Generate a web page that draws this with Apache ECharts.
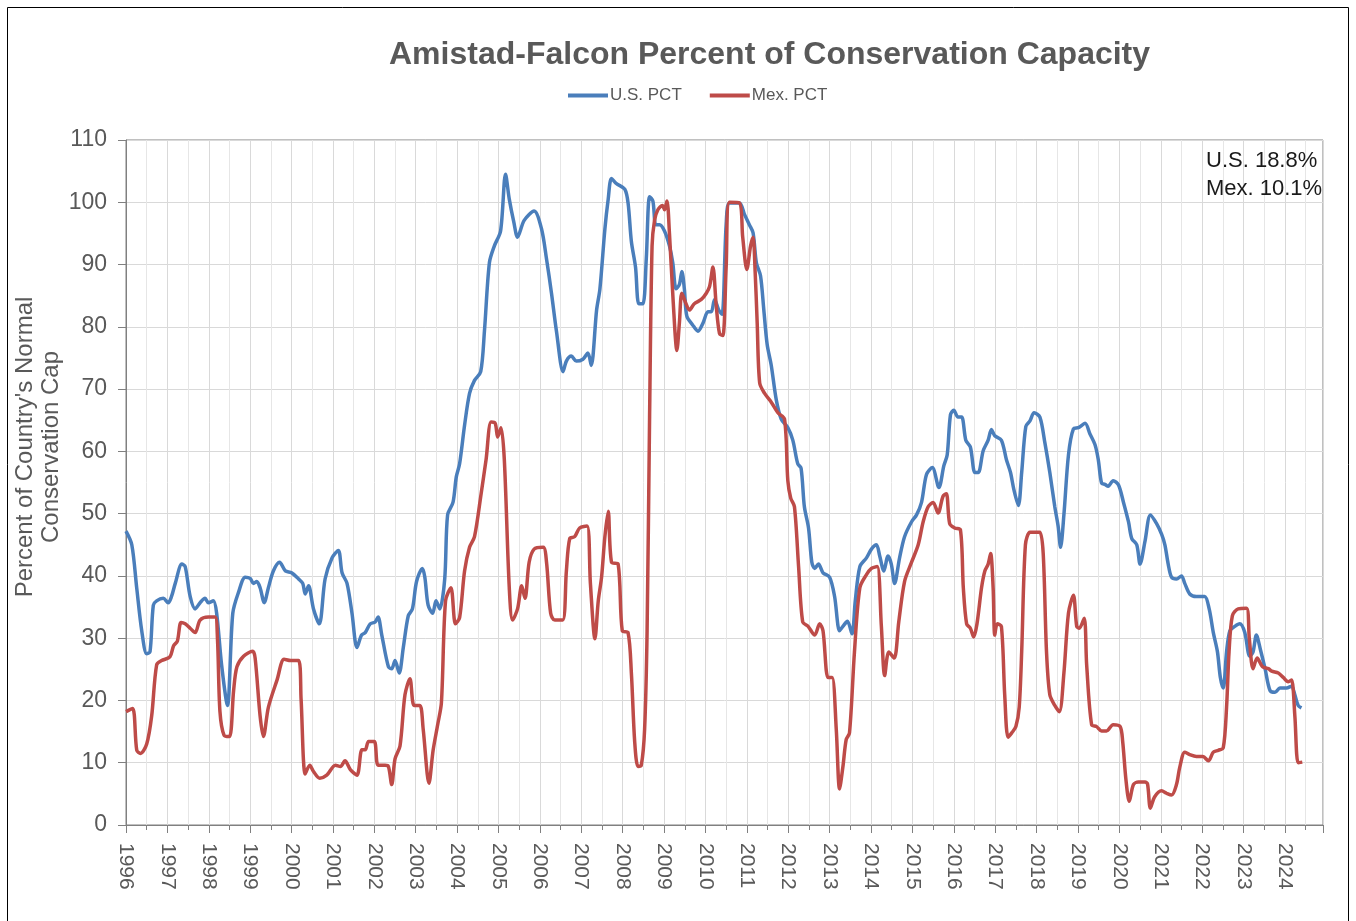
<!DOCTYPE html>
<html>
<head>
<meta charset="utf-8">
<title>Amistad-Falcon Percent of Conservation Capacity</title>
<script src="https://cdn.jsdelivr.net/npm/echarts@6/dist/echarts.min.js"></script>
<style>
    html, body { margin: 0; padding: 0; background: #fff; }
    #chart { width: 1356px; height: 921px; }
</style>
</head>
<body>
<div id="chart"></div>
<script>
// 标题与图例
const chartTitle = 'Amistad-Falcon Percent of Conservation Capacity';
const seriesNames = ['U.S. PCT', 'Mex. PCT'];
const yAxisName = "Percent of Country's Normal\nConservation Cap";

// 美国数据：年份（小数年）与百分比
const usYears = [
    1996.0, 1996.14, 1996.26, 1996.38, 1996.5, 1996.58, 1996.66, 1996.74, 1996.9, 1997.02,
    1997.1, 1997.19, 1997.35, 1997.43, 1997.55, 1997.67, 1997.79, 1997.91, 1997.99, 1998.11,
    1998.19, 1998.31, 1998.45, 1998.58, 1998.72, 1998.88, 1999.0, 1999.08, 1999.16, 1999.24,
    1999.34, 1999.44, 1999.56, 1999.71, 1999.85, 2000.0, 2000.17, 2000.27, 2000.33, 2000.41,
    2000.53, 2000.67, 2000.81, 2000.98, 2001.13, 2001.22, 2001.34, 2001.46, 2001.58, 2001.69,
    2001.78, 2001.9, 2002.02, 2002.09, 2002.18, 2002.34, 2002.42, 2002.5, 2002.6, 2002.7,
    2002.82, 2002.92, 2003.02, 2003.16, 2003.22, 2003.3, 2003.41, 2003.49, 2003.58, 2003.7,
    2003.77, 2003.9, 2003.98, 2004.06, 2004.18, 2004.3, 2004.42, 2004.57, 2004.66, 2004.78,
    2004.9, 2005.05, 2005.17, 2005.26, 2005.37, 2005.46, 2005.62, 2005.86, 2006.04, 2006.16,
    2006.28, 2006.4, 2006.56, 2006.64, 2006.76, 2006.88, 2007.04, 2007.16, 2007.24, 2007.37,
    2007.45, 2007.57, 2007.65, 2007.73, 2007.85, 2008.05, 2008.13, 2008.21, 2008.31, 2008.39,
    2008.49, 2008.57, 2008.65, 2008.73, 2008.8, 2008.89, 2009.01, 2009.13, 2009.21, 2009.29,
    2009.37, 2009.43, 2009.49, 2009.55, 2009.69, 2009.82, 2009.94, 2010.06, 2010.14, 2010.22,
    2010.32, 2010.4, 2010.5, 2010.58, 2010.82, 2010.94, 2011.06, 2011.15, 2011.23, 2011.33,
    2011.41, 2011.49, 2011.59, 2011.71, 2011.83, 2011.99, 2012.11, 2012.23, 2012.31, 2012.39,
    2012.49, 2012.57, 2012.64, 2012.73, 2012.84, 2013.0, 2013.12, 2013.24, 2013.32, 2013.43,
    2013.54, 2013.62, 2013.73, 2013.89, 2014.01, 2014.13, 2014.21, 2014.31, 2014.41, 2014.49,
    2014.57, 2014.69, 2014.81, 2014.98, 2015.1, 2015.22, 2015.34, 2015.48, 2015.64, 2015.76,
    2015.84, 2015.92, 2016.0, 2016.1, 2016.19, 2016.29, 2016.4, 2016.51, 2016.59, 2016.71,
    2016.83, 2016.91, 2016.99, 2017.15, 2017.27, 2017.37, 2017.45, 2017.56, 2017.64, 2017.74,
    2017.84, 2017.94, 2018.08, 2018.2, 2018.32, 2018.44, 2018.52, 2018.58, 2018.66, 2018.77,
    2018.89, 2019.01, 2019.17, 2019.29, 2019.41, 2019.49, 2019.57, 2019.65, 2019.73, 2019.85,
    2019.98, 2020.1, 2020.22, 2020.3, 2020.42, 2020.5, 2020.62, 2020.75, 2020.9, 2021.02,
    2021.1, 2021.18, 2021.26, 2021.38, 2021.5, 2021.58, 2021.7, 2021.86, 2022.06, 2022.17,
    2022.27, 2022.37, 2022.44, 2022.51, 2022.59, 2022.67, 2022.79, 2022.91, 2023.03, 2023.15,
    2023.23, 2023.31, 2023.41, 2023.52, 2023.64, 2023.76, 2023.88, 2024.04, 2024.16, 2024.24,
    2024.32, 2024.4
];
const usPct = [
    47.2, 45, 38, 31.2, 27.5, 27.8, 35.3, 36, 36.4, 35.7,
    36.7, 38.8, 41.9, 41.5, 36.7, 34.7, 35.7, 36.4, 35.7, 36,
    34, 25.7, 19.2, 34, 37.4, 39.8, 39.6, 38.8, 39.1, 38.1,
    35.7, 38.1, 40.8, 42.2, 40.8, 40.5, 39.5, 38.8, 37.1, 38.4,
    34.7, 32.3, 39.5, 42.9, 44.1, 40.5, 38.8, 34, 28.5, 30.5,
    30.9, 32.3, 32.6, 33.4, 30.5, 25.4, 25.1, 26.4, 24.4, 28.5,
    33.6, 34.7, 39.1, 41.2, 39.8, 35.3, 34, 36, 34.7, 39.5,
    49.8, 51.8, 55.9, 58, 64.2, 69.3, 71.4, 72.8, 79.3, 90.3,
    93, 95.4, 104.5, 100.5, 96.8, 94.4, 97.1, 98.6, 95.7, 90.9,
    85.4, 79.3, 72.8, 74.5, 75.3, 74.5, 74.8, 75.8, 73.8, 82.7,
    86.1, 95.7, 100.5, 103.8, 103, 102.1, 99.9, 93.7, 89.6, 83.7,
    83.7, 90.9, 100.9, 100.2, 96.4, 96.4, 95.4, 93, 90.3, 86.1,
    86.8, 88.9, 86.1, 81.7, 80.3, 79.3, 80.6, 82.4, 82.4, 84.4,
    82.7, 82, 96.4, 99.9, 99.9, 98.1, 96.4, 95.1, 90.3, 88.2,
    82.7, 77.2, 73.8, 68.3, 65.2, 63.8, 61.8, 58, 57.3, 51.1,
    47.7, 42.2, 41.2, 41.9, 40.5, 39.8, 36.7, 31.2, 31.9, 32.7,
    30.7, 36, 41.5, 42.9, 44.3, 45, 43.2, 40.8, 43.2, 41.9,
    38.8, 42.9, 46.3, 48.7, 49.8, 51.8, 56.3, 57.4, 54.2, 57.7,
    59.4, 65.9, 66.6, 65.5, 65.5, 61.8, 60.7, 56.6, 56.6, 60.1,
    61.8, 63.5, 62.5, 61.8, 58.7, 56.6, 53.9, 51.3, 56.6, 64,
    64.9, 66.2, 65.5, 61.4, 56.6, 51.1, 48, 44.6, 49.8, 59.4,
    63.6, 63.8, 64.5, 62.8, 61.1, 58.7, 54.9, 54.7, 54.4, 55.3,
    54.6, 51.8, 48.7, 46, 45, 41.9, 45.6, 49.8, 48.4, 46.7,
    45, 41.9, 39.8, 39.5, 40, 38.8, 37.1, 36.7, 36.7, 34.7,
    30.9, 27.8, 23.7, 22, 27.8, 31.2, 31.9, 32.3, 30.9, 27.1,
    27.8, 30.5, 28.1, 25.1, 21.6, 21.3, 22, 22, 22.3, 20.9,
    19.2, 18.8
];

// 墨西哥数据
const mexYears = [
    1996.0, 1996.16, 1996.26, 1996.35, 1996.5, 1996.62, 1996.74, 1996.86, 1997.06, 1997.15,
    1997.24, 1997.33, 1997.43, 1997.55, 1997.67, 1997.79, 1997.99, 1998.15, 1998.21, 1998.27,
    1998.37, 1998.5, 1998.6, 1998.68, 1998.84, 1999.06, 1999.12, 1999.24, 1999.32, 1999.44,
    1999.65, 1999.82, 1999.98, 2000.17, 2000.23, 2000.33, 2000.44, 2000.53, 2000.68, 2000.85,
    2001.06, 2001.18, 2001.29, 2001.42, 2001.58, 2001.7, 2001.78, 2001.86, 2002.0, 2002.09,
    2002.26, 2002.34, 2002.42, 2002.5, 2002.62, 2002.74, 2002.86, 2002.96, 2003.1, 2003.18,
    2003.32, 2003.42, 2003.53, 2003.62, 2003.72, 2003.85, 2003.96, 2004.06, 2004.18, 2004.3,
    2004.42, 2004.58, 2004.7, 2004.82, 2004.92, 2004.98, 2005.06, 2005.14, 2005.26, 2005.34,
    2005.46, 2005.56, 2005.64, 2005.74, 2005.86, 2006.08, 2006.16, 2006.26, 2006.36, 2006.55,
    2006.64, 2006.72, 2006.84, 2006.96, 2007.14, 2007.22, 2007.33, 2007.41, 2007.49, 2007.57,
    2007.65, 2007.73, 2007.89, 2007.99, 2008.13, 2008.21, 2008.29, 2008.37, 2008.45, 2008.53,
    2008.59, 2008.65, 2008.71, 2008.77, 2008.85, 2008.96, 2009.01, 2009.07, 2009.13, 2009.22,
    2009.31, 2009.37, 2009.43, 2009.53, 2009.61, 2009.73, 2009.9, 2010.02, 2010.1, 2010.18,
    2010.26, 2010.34, 2010.42, 2010.5, 2010.58, 2010.82, 2010.9, 2011.0, 2011.09, 2011.15,
    2011.2, 2011.25, 2011.31, 2011.43, 2011.59, 2011.75, 2011.91, 2011.99, 2012.06, 2012.15,
    2012.25, 2012.35, 2012.48, 2012.64, 2012.76, 2012.84, 2012.96, 2013.06, 2013.16, 2013.24,
    2013.32, 2013.4, 2013.48, 2013.6, 2013.73, 2013.89, 2014.01, 2014.15, 2014.25, 2014.33,
    2014.43, 2014.56, 2014.67, 2014.81, 2014.98, 2015.14, 2015.26, 2015.38, 2015.5, 2015.62,
    2015.74, 2015.82, 2015.9, 2016.02, 2016.16, 2016.23, 2016.31, 2016.4, 2016.48, 2016.56,
    2016.67, 2016.75, 2016.83, 2016.89, 2016.95, 2016.99, 2017.05, 2017.15, 2017.23, 2017.31,
    2017.4, 2017.5, 2017.58, 2017.64, 2017.73, 2017.84, 2017.96, 2018.08, 2018.16, 2018.24,
    2018.32, 2018.44, 2018.55, 2018.66, 2018.77, 2018.89, 2018.97, 2019.03, 2019.15, 2019.21,
    2019.33, 2019.45, 2019.57, 2019.69, 2019.85, 2020.02, 2020.08, 2020.16, 2020.24, 2020.34,
    2020.46, 2020.62, 2020.68, 2020.75, 2020.85, 2021.02, 2021.14, 2021.26, 2021.38, 2021.46,
    2021.58, 2021.7, 2021.86, 2022.02, 2022.15, 2022.27, 2022.39, 2022.51, 2022.59, 2022.65,
    2022.73, 2022.87, 2023.07, 2023.14, 2023.23, 2023.33, 2023.46, 2023.6, 2023.68, 2023.84,
    2023.96, 2024.08, 2024.16, 2024.24, 2024.32, 2024.42
];
const mexPct = [
    18.2, 18.7, 12, 11.5, 13, 17.5, 25.7, 26.4, 27, 28.8,
    29.5, 32.5, 32.3, 31.6, 30.9, 32.9, 33.4, 33.4, 29.9, 18.2,
    14.4, 14.2, 21.6, 25.4, 27.1, 27.9, 26.8, 17.5, 14.2, 18.9,
    23.3, 26.6, 26.4, 26.4, 20.2, 8.2, 9.6, 8.6, 7.5, 8,
    9.6, 9.4, 10.3, 8.9, 8, 12.1, 12.1, 13.4, 13.4, 9.6,
    9.6, 9.4, 6.5, 10.6, 12.7, 20.9, 23.5, 19.2, 19.2, 15.4,
    6.7, 12, 16.1, 19.6, 36, 38.1, 32.3, 33.3, 40.8, 44.6,
    46.3, 53.2, 58.7, 64.7, 64.5, 62.3, 63.8, 58.7, 38.1, 32.9,
    34.7, 38.4, 36.4, 42.2, 44.3, 44.6, 42.2, 34, 32.9, 32.9,
    40.8, 46, 46.3, 47.7, 48, 38.8, 29.9, 36, 39.8, 46.3,
    50.4, 42.2, 41.9, 31.2, 30.9, 24.4, 13.4, 9.4, 9.6, 15.4,
    31.2, 65.5, 93, 97.1, 98.8, 99.5, 98.8, 100.2, 95, 84.1,
    76.2, 80.6, 85.4, 83.7, 82.7, 83.7, 84.4, 85.4, 86.5, 89.6,
    83.4, 78.9, 78.6, 89.6, 100, 99.9, 94.4, 89.2, 93, 94.4,
    88.9, 80.6, 71, 69.3, 67.9, 66.2, 65.2, 55.3, 52.5, 51.1,
    41.5, 32.6, 31.9, 30.5, 32.3, 31.2, 23.7, 23.7, 15.4, 5.8,
    9.3, 13.7, 14.8, 27.8, 38.1, 40.2, 41.2, 41.5, 31.9, 24,
    27.8, 26.8, 32.6, 39.1, 42.2, 45, 48.7, 51.1, 51.8, 50.1,
    52.8, 53.2, 48.4, 47.7, 47.4, 38.1, 32.3, 31.6, 30.2, 32.3,
    38.1, 40.8, 41.9, 43.6, 38.1, 30.5, 32.3, 31.9, 20.9, 14.1,
    14.8, 15.8, 18.9, 27.8, 45, 47, 47, 47, 43.6, 27.8,
    20.9, 19.2, 18.2, 24.4, 34, 36.9, 31.9, 31.6, 33.2, 25.7,
    16.1, 15.8, 15.1, 15.1, 16.1, 15.8, 13.4, 7.2, 3.8, 6.5,
    6.9, 6.9, 6.6, 2.7, 4.5, 5.5, 5.1, 4.8, 6.5, 9.3,
    11.7, 11.3, 11, 11, 10.3, 11.7, 12, 12.4, 18.9, 27.8,
    33.6, 34.7, 34.8, 29.9, 25.1, 26.8, 25.4, 25.1, 24.7, 24.4,
    23.7, 23, 23.3, 17.5, 10, 10.1
];

// 坐标轴范围
const xMin = 1996;
const xMax = 2024.92;
const yMin = 0;
const yMax = 110;

const fontFamily = '"Liberation Sans", Arial, sans-serif';
const textColor = '#595959';
const colors = ['#4a7ebb', '#be4b48'];

// 把年份和数值拼成 [x, y]
function toPairs(xs, ys) {
    return xs.map((x, i) => [x, ys[i]]);
}

// 右上角注释：最新数值
const lastUs = usPct[usPct.length - 1];
const lastMex = mexPct[mexPct.length - 1];
const noteText = 'U.S. ' + lastUs.toFixed(1) + '%\nMex. ' + lastMex.toFixed(1) + '%';

let myChart = echarts.init(document.getElementById('chart'));

let option = {
    animation: false,
    backgroundColor: '#fff',
    textStyle: { fontFamily: fontFamily },
    title: {
        text: chartTitle,
        left: 384,
        top: 34,
        textStyle: {
            color: textColor,
            fontSize: 32,
            fontWeight: 'bold',
            fontFamily: fontFamily
        }
    },
    legend: {
        data: seriesNames,
        left: 563,
        top: 82,
        icon: 'rect',
        itemWidth: 40,
        itemHeight: 4,
        itemGap: 28,
        textStyle: {
            color: textColor,
            fontSize: 17,
            padding: [0, 0, 0, -3]
        }
    },
    grid: {
        left: 126,
        right: 33,
        top: 140,
        bottom: 96,
        show: true,
        borderColor: '#808080',
        borderWidth: 1
    },
    xAxis: {
        type: 'value',
        min: xMin,
        max: xMax,
        interval: 1,
        axisLine: { show: true, lineStyle: { color: '#808080', width: 1 } },
        axisTick: { show: true, length: 8, lineStyle: { color: '#808080' } },
        minorTick: { show: true, splitNumber: 2, length: 5, lineStyle: { color: '#808080' } },
        splitLine: { show: true, lineStyle: { color: '#d9d9d9', width: 1 } },
        minorSplitLine: { show: true, lineStyle: { color: '#e6e6e6', width: 1 } },
        axisLabel: {
            rotate: -90,
            margin: 18,
            color: textColor,
            fontSize: 21,
            // 只显示整年
            formatter: v => (Math.abs(v - Math.round(v)) < 1e-6 ? String(Math.round(v)) : '')
        }
    },
    yAxis: {
        type: 'value',
        min: yMin,
        max: yMax,
        interval: 10,
        axisLine: { show: true, lineStyle: { color: '#808080', width: 1 } },
        axisTick: { show: true, length: 8, lineStyle: { color: '#808080' } },
        splitLine: { show: true, lineStyle: { color: '#d9d9d9', width: 1 } },
        axisLabel: {
            margin: 19,
            color: textColor,
            fontSize: 23
        }
    },
    series: [
        {
            name: seriesNames[0],
            type: 'line',
            data: toPairs(usYears, usPct),
            smooth: 0.3,
            showSymbol: false,
            lineStyle: { color: colors[0], width: 3.5 },
            itemStyle: { color: colors[0] },
            z: 2
        },
        {
            name: seriesNames[1],
            type: 'line',
            data: toPairs(mexYears, mexPct),
            smooth: 0.3,
            showSymbol: false,
            lineStyle: { color: colors[1], width: 3.5 },
            itemStyle: { color: colors[1] },
            z: 3
        }
    ],
    graphic: [
        // 外框
        {
            type: 'rect',
            shape: { x: 7.5, y: 7.5, width: 1341, height: 930 },
            style: { fill: 'none', stroke: '#000', lineWidth: 1 },
            silent: true
        },
        // 纵轴标题
        {
            type: 'text',
            x: 38,
            y: 447,
            rotation: Math.PI / 2,
            style: {
                text: yAxisName,
                fill: textColor,
                font: '24px ' + fontFamily,
                lineHeight: 26,
                align: 'center',
                verticalAlign: 'middle'
            }
        },
        // 最新数值注释
        {
            type: 'text',
            left: 1206,
            top: 147,
            style: {
                text: noteText,
                fill: '#1a1a1a',
                font: '22px ' + fontFamily,
                lineHeight: 28
            },
            z: 10
        }
    ]
};

myChart.setOption(option);
</script>
</body>
</html>
